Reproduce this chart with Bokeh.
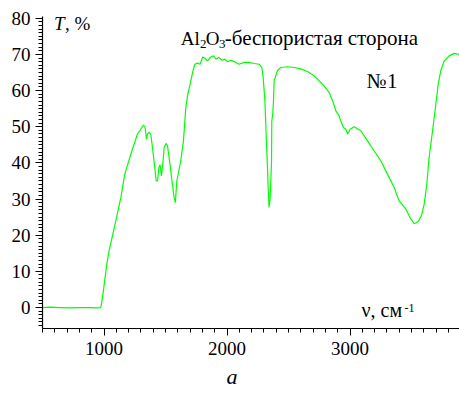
from bokeh.plotting import figure
from bokeh.models import Label, FixedTicker, Range1d, Title
from bokeh.embed import file_html
from bokeh.resources import INLINE

# wavenumber (cm^-1) and transmittance (%)
wavenumber = [500, 560, 640, 720, 800, 880, 950, 974, 988, 1023, 1041, 1096, 1131, 1137, 1169, 1218,
              1272, 1299, 1321, 1334, 1345, 1354, 1367, 1380, 1394, 1413, 1424, 1435, 1446, 1456,
              1467, 1478, 1489, 1505, 1516, 1533, 1549, 1570, 1580, 1592, 1624, 1646, 1665, 1679,
              1700, 1720, 1738, 1760, 1781, 1803, 1820, 1841, 1868, 1890, 1911, 1933, 1958, 1982,
              2004, 2031, 2072, 2098, 2139, 2180, 2220, 2261, 2283, 2294, 2308, 2318, 2329, 2336,
              2342, 2350, 2356, 2362, 2364, 2372, 2378, 2383, 2410, 2437, 2492, 2546, 2600, 2654,
              2708, 2749, 2789, 2830, 2858, 2885, 2911, 2925, 2947, 2966, 2980, 3001, 3033, 3088,
              3142, 3196, 3250, 3304, 3359, 3399, 3454, 3494, 3521, 3554, 3581, 3603, 3624, 3643,
              3671, 3698, 3717, 3738, 3765, 3806, 3846, 3887]
transmittance = [0.0, 0.1, 0.0, -0.1, 0.0, 0.0, -0.1, 0.0, 2.8, 12.0, 15.7, 24.0, 29.5, 30.4, 36.9, 42.4,
                 48.0, 49.3, 50.5, 49.8, 46.6, 48.0, 48.4, 48.0, 44.3, 38.7, 35.0, 35.0, 38.7, 39.5,
                 36.4, 39.7, 44.3, 45.4, 44.7, 40.6, 36.0, 30.4, 29.0, 35.0, 40.6, 46.1, 55.3, 58.6,
                 61.8, 65.0, 67.3, 67.6, 67.3, 69.3, 69.0, 68.2, 69.3, 69.6, 68.7, 69.2, 68.4, 68.7,
                 68.0, 68.4, 67.8, 67.3, 67.8, 67.8, 67.5, 67.3, 66.4, 63.6, 57.2, 48.0, 38.7, 32.0,
                 27.7, 30.0, 35.0, 40.6, 51.6, 53.5, 57.2, 62.7, 65.5, 66.4, 66.6, 66.4, 66.0, 65.3,
                 64.1, 62.7, 61.3, 59.5, 57.2, 54.4, 53.0, 51.6, 49.8, 49.3, 48.0, 49.3, 50.0, 48.9,
                 46.1, 43.3, 40.6, 36.9, 33.2, 29.5, 27.2, 24.5, 23.2, 23.8, 25.4, 28.6, 34.1, 41.5,
                 48.9, 56.3, 61.8, 65.5, 68.2, 69.6, 70.3, 70.0, 70.1]

y_tick_labels = ["0", "10", "20", "30", "40", "50", "60", "70", "80"]
x_tick_labels = ["1000", "2000", "3000"]

FONT = "Liberation Serif"
GREEN = "#00ff00"

p = figure(width=459, height=396, output_backend="svg", toolbar_location=None,
           x_range=Range1d(500, 3890), y_range=Range1d(-5.8, 80.5),
           min_border_left=42, min_border_right=0, min_border_top=16, min_border_bottom=68)
p.outline_line_color = None
p.xgrid.visible = False
p.ygrid.visible = False
p.background_fill_color = "white"
p.border_fill_color = "white"

p.line(wavenumber, transmittance, line_color=GREEN, line_width=1.2)

p.xaxis.ticker = FixedTicker(ticks=[int(s) for s in x_tick_labels],
                             minor_ticks=list(range(500, 3900, 100)))
p.yaxis.ticker = FixedTicker(ticks=[int(s) for s in y_tick_labels],
                             minor_ticks=list(range(-5, 81, 1)))
p.axis.axis_line_color = "black"
p.axis.axis_line_width = 1.2
p.axis.major_tick_line_color = "black"
p.axis.minor_tick_line_color = "black"
p.axis.major_tick_out = 7
p.axis.major_tick_in = 0
p.axis.minor_tick_out = 4
p.axis.minor_tick_in = 0
p.axis.major_label_text_font = FONT
p.axis.major_label_text_font_size = "19px"
p.axis.major_label_text_color = "black"
p.yaxis.major_label_standoff = 5
p.xaxis.major_label_standoff = 6


def lab(text, x, y, size, style="normal", x_offset=0, align="left"):
    p.add_layout(Label(x=x, y=y, text=text, x_offset=x_offset, text_font=FONT,
                       text_font_size=size, text_font_style=style, text_color="black",
                       text_align=align, text_baseline="alphabetic"))


# title with subscripts
lab("Al", 1624, 74.5, "19px")
lab("2", 1624, 72.9, "13px", x_offset=19.3)
lab("O", 1624, 74.5, "19px", x_offset=25)
lab("3", 1624, 72.9, "13px", x_offset=38.3)
lab("-беспористая сторона", 1624, 74.5, "21px", x_offset=44)

lab("№1", 3137, 62.7, "21px")
lab("T", 594, 78.7, "19px", style="italic")
lab(", %", 594, 78.7, "19px", x_offset=11)
lab("ν, см", 3093, -0.64, "20px")
lab("-1", 3093, 0.0, "12px", x_offset=43)

# panel caption below the axis
p.add_layout(Title(text="a", align="left", offset=184, text_font=FONT,
                   text_font_size="22px", text_font_style="italic",
                   text_color="black", standoff=9), "below")

open("out.html", "w").write(file_html(p, INLINE))
